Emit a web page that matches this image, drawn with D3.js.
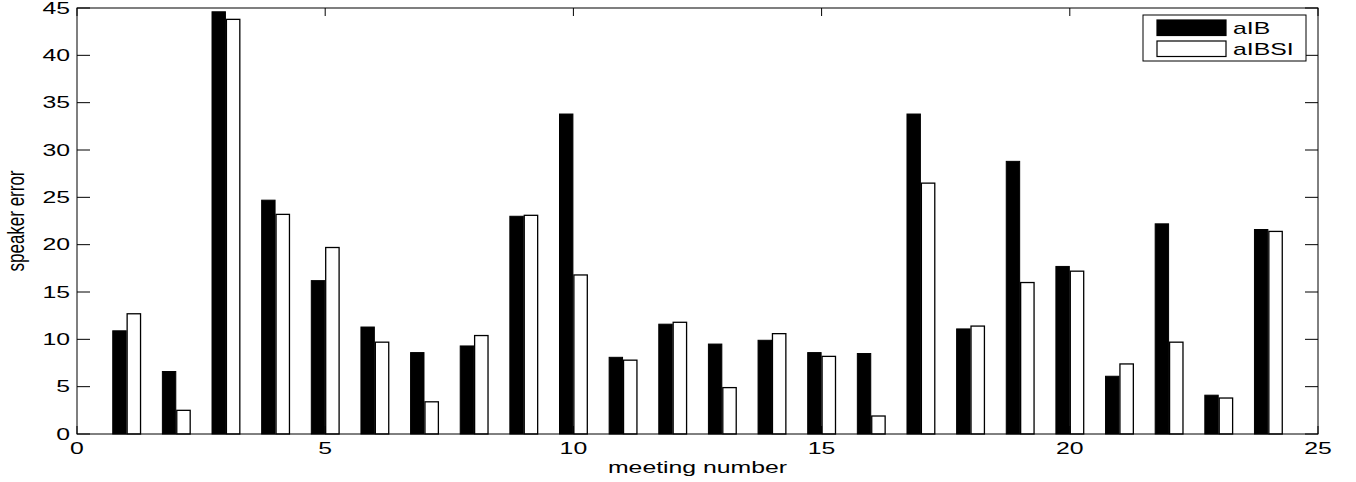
<!DOCTYPE html>
<html>
<head>
<meta charset="utf-8">
<script src="https://cdn.jsdelivr.net/npm/d3@7"></script>
<style>
  html, body { margin: 0; padding: 0; background: #fff; }
  text { font-family: "Liberation Sans", Arial, Helvetica, sans-serif; fill: #000; }
</style>
</head>
<body>
<div id="chart"></div>
<script>
// ── data ──
const meetings = d3.range(1, 25);
const aIB   = [10.9, 6.6, 44.6, 24.7, 16.2, 11.3, 8.6, 9.3, 23.0, 33.8, 8.1, 11.6,
               9.5, 9.9, 8.6, 8.5, 33.8, 11.1, 28.8, 17.7, 6.1, 22.2, 4.1, 21.6];
const aIBSI = [12.7, 2.5, 43.8, 23.2, 19.7, 9.7, 3.4, 10.4, 23.1, 16.8, 7.8, 11.8,
               4.9, 10.6, 8.2, 1.9, 26.5, 11.4, 16.0, 17.2, 7.4, 9.7, 3.8, 21.4];
const seriesNames = ["aIB", "aIBSI"];
const xTicks = [0, 5, 10, 15, 20, 25];
const yTicks = [0, 5, 10, 15, 20, 25, 30, 35, 40, 45];

// ── layout ──
const width = 1356, height = 482;
const plotL = 77, plotR = 1318, plotT = 8, plotB = 434;
const SX = 1.55;          // horizontal stretch of the text in the reference
const fs = 16;

const x = d3.scaleLinear().domain([0, 25]).range([plotL, plotR]);
const y = d3.scaleLinear().domain([0, 45]).range([plotB, plotT]);

const svg = d3.select("#chart").append("svg")
  .attr("width", width).attr("height", height)
  .attr("viewBox", [0, 0, width, height]);

// ── bars ──
const barW = 0.27;
const rows = meetings.map((m, i) => ({ m, a: aIB[i], b: aIBSI[i] }));

svg.append("g").selectAll("rect").data(rows).join("rect")
  .attr("x", d => x(d.m - 0.01 - barW))
  .attr("width", d => x(barW) - x(0))
  .attr("y", d => y(d.a))
  .attr("height", d => y(0) - y(d.a))
  .attr("fill", "#000").attr("stroke", "#000").attr("stroke-width", 1);

svg.append("g").selectAll("rect").data(rows).join("rect")
  .attr("x", d => x(d.m + 0.01))
  .attr("width", d => x(barW) - x(0))
  .attr("y", d => y(d.b))
  .attr("height", d => y(0) - y(d.b))
  .attr("fill", "#fff").attr("stroke", "#000").attr("stroke-width", 1.3);

// ── axes box + inner ticks ──
const axisG = svg.append("g").attr("stroke", "#000").attr("stroke-width", 1).attr("fill", "none");
axisG.append("rect")
  .attr("x", plotL).attr("y", plotT)
  .attr("width", plotR - plotL).attr("height", plotB - plotT);

axisG.selectAll("line.yt").data(yTicks).join("line").attr("class", "yt")
  .attr("x1", plotL).attr("x2", plotL + 13)
  .attr("y1", d => y(d)).attr("y2", d => y(d));
axisG.selectAll("line.yr").data(yTicks).join("line").attr("class", "yr")
  .attr("x1", plotR).attr("x2", plotR - 13)
  .attr("y1", d => y(d)).attr("y2", d => y(d));
axisG.selectAll("line.xb").data(xTicks).join("line").attr("class", "xb")
  .attr("x1", d => x(d)).attr("x2", d => x(d))
  .attr("y1", plotB).attr("y2", plotB - 8);
axisG.selectAll("line.xt").data(xTicks).join("line").attr("class", "xt")
  .attr("x1", d => x(d)).attr("x2", d => x(d))
  .attr("y1", plotT).attr("y2", plotT + 8);

// ── tick labels ──
svg.append("g").selectAll("text").data(yTicks).join("text")
  .attr("transform", d => `translate(70,${y(d)}) scale(${SX},1)`)
  .attr("text-anchor", "end").attr("dy", "0.36em")
  .attr("font-size", fs)
  .text(d => d);

svg.append("g").selectAll("text").data(xTicks).join("text")
  .attr("transform", d => `translate(${x(d)},454) scale(${SX},1)`)
  .attr("text-anchor", "middle")
  .attr("font-size", fs)
  .text(d => d);

// ── axis titles ──
svg.append("text")
  .attr("transform", `translate(${(plotL + plotR) / 2},473) scale(${SX},1)`)
  .attr("text-anchor", "middle").attr("font-size", fs)
  .text("meeting number");

svg.append("text")
  .attr("transform", `translate(24,221) scale(${SX - 0.1},1) rotate(-90)`)
  .attr("text-anchor", "middle").attr("font-size", 17)
  .text("speaker error");

// ── legend ──
const lg = svg.append("g");
lg.append("rect")
  .attr("x", 1143).attr("y", 15).attr("width", 163).attr("height", 46)
  .attr("fill", "#fff").attr("stroke", "#000").attr("stroke-width", 1);
const swatch = [
  { name: seriesNames[0], fill: "#000", yy: 20 },
  { name: seriesNames[1], fill: "#fff", yy: 41 }
];
lg.selectAll("rect.sw").data(swatch).join("rect").attr("class", "sw")
  .attr("x", 1157).attr("y", d => d.yy).attr("width", 69).attr("height", 15.5)
  .attr("fill", d => d.fill).attr("stroke", "#000").attr("stroke-width", 1.2);
lg.selectAll("text").data(swatch).join("text")
  .attr("transform", d => `translate(1233,${d.yy + 14}) scale(${SX},1)`)
  .attr("font-size", fs)
  .text(d => d.name);
</script>
</body>
</html>
